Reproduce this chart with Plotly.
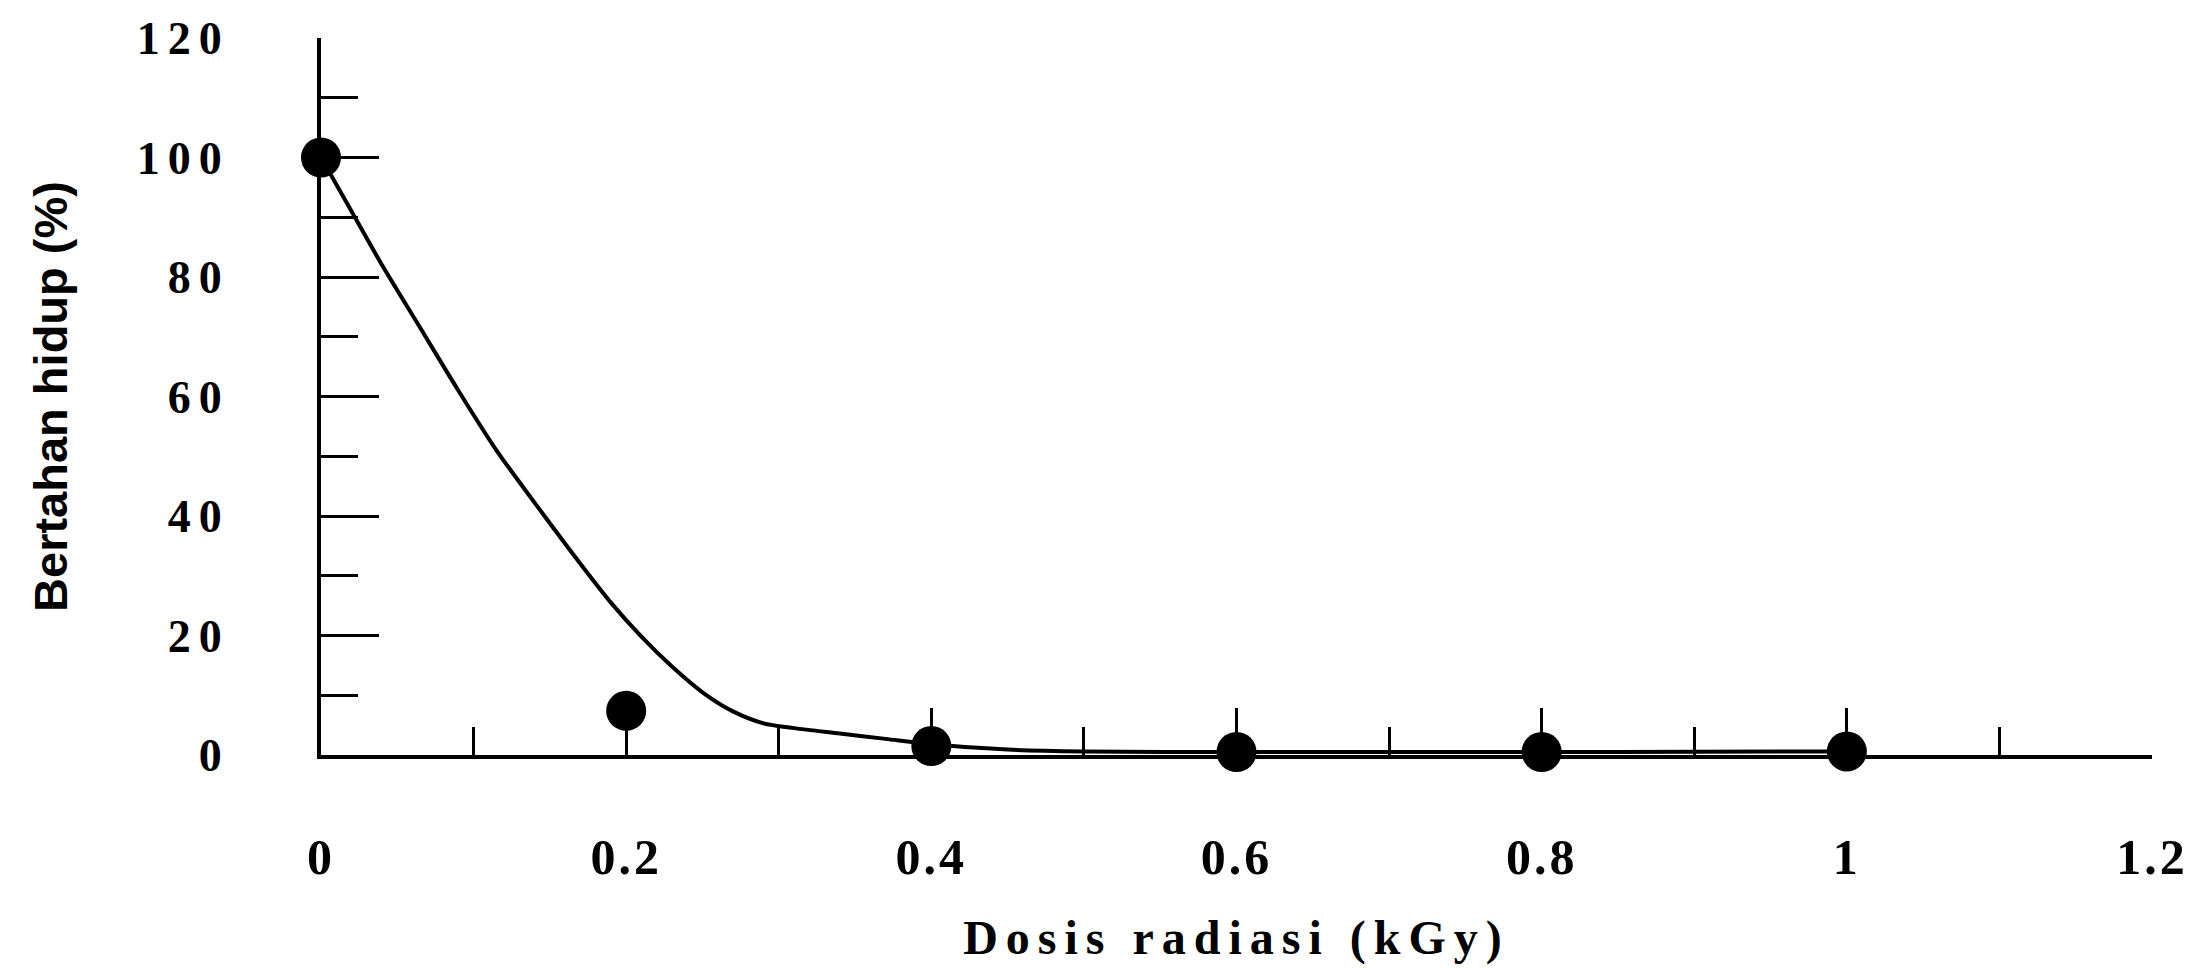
import plotly.graph_objects as go

# Observed data points (dose in kGy, survival %)
dose = [0, 0.2, 0.4, 0.6, 0.8, 1.0]
survival = [100, 7.4, 1.5, 0.5, 0.5, 0.6]

# Fitted curve
curve_x = [0, 0.02, 0.04, 0.065, 0.09, 0.115, 0.145, 0.17, 0.19, 0.21, 0.23,
           0.25, 0.27, 0.29, 0.31, 0.34, 0.37, 0.40, 0.45, 0.5, 0.6, 0.7,
           0.8, 0.9, 1.0]
curve_y = [100, 91, 82, 71.5, 61, 51, 40.5, 32, 25.5, 19.8, 14.8,
           10.5, 7.3, 5.3, 4.5, 3.6, 2.7, 1.8, 0.9, 0.6, 0.5, 0.5,
           0.5, 0.55, 0.6]

x_tickvals = [0, 0.2, 0.4, 0.6, 0.8, 1.0, 1.2]
x_ticktext = ["0", "0.2", "0.4", "0.6", "0.8", "1", "1.2"]
x_minor = [0.1, 0.3, 0.5, 0.7, 0.9, 1.1]
y_tickvals = [0, 20, 40, 60, 80, 100, 120]
y_ticktext = ["0", "20", "40", "60", "80", "100", "120"]
y_minor = [10, 30, 50, 70, 90, 110]

x_title = "Dosis radiasi (kGy)"
y_title = "Bertahan hidup (%)"

fig = go.Figure()
fig.add_trace(go.Scatter(
    x=curve_x, y=curve_y, mode="lines",
    line=dict(color="black", width=4, shape="spline", smoothing=0.8),
    cliponaxis=False, showlegend=False, hoverinfo="skip"))
fig.add_trace(go.Scatter(
    x=dose, y=survival, mode="markers",
    marker=dict(color="black", size=40, symbol="circle"),
    cliponaxis=False, showlegend=False))

serif = "Liberation Serif, Times New Roman, serif"
sans = "Liberation Sans, Arial, sans-serif"

fig.update_layout(
    width=2210, height=968,
    margin=dict(l=321, r=58, t=38, b=203),
    paper_bgcolor="white", plot_bgcolor="white",
    showlegend=False,
    xaxis=dict(
        range=[0, 1.2], showgrid=False, zeroline=False,
        showline=True, linecolor="black", linewidth=4,
        tickmode="array", tickvals=x_tickvals,
        ticktext=['<span style="letter-spacing:3px">%s</span>' % t for t in x_ticktext],
        ticks="inside", ticklen=47, tickwidth=3, tickcolor="black",
        ticklabelstandoff=55,
        tickfont=dict(family=serif, size=50, color="black", weight="bold"),
        minor=dict(tickmode="array", tickvals=x_minor, ticks="inside",
                   ticklen=28, tickwidth=3, tickcolor="black", showgrid=False),
        title=dict(text='<span style="letter-spacing:8px">%s</span>' % x_title,
                   font=dict(family=serif, size=48, color="black", weight="bold"),
                   standoff=37),
    ),
    yaxis=dict(
        range=[0, 120], showgrid=False, zeroline=False,
        showline=True, linecolor="black", linewidth=4,
        tickmode="array", tickvals=y_tickvals,
        ticktext=['<span style="letter-spacing:8px">%s</span>' % t for t in y_ticktext],
        ticks="inside", ticklen=58, tickwidth=3, tickcolor="black",
        ticklabelstandoff=78,
        tickfont=dict(family=serif, size=46, color="black", weight="bold"),
        minor=dict(tickmode="array", tickvals=y_minor, ticks="inside",
                   ticklen=37, tickwidth=3, tickcolor="black", showgrid=False),
        title=dict(text=y_title,
                   font=dict(family=sans, size=47, color="black", weight="bold"),
                   standoff=55),
    ),
)

fig.write_html("out.html")
